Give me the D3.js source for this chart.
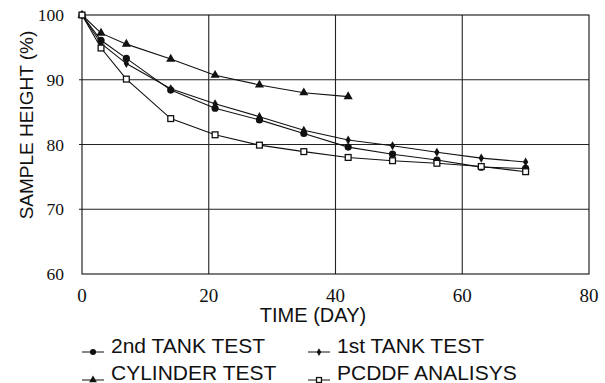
<!DOCTYPE html>
<html>
<head>
<meta charset="utf-8">
<script src="https://cdn.jsdelivr.net/npm/d3@7"></script>
<style>
  html, body { margin: 0; padding: 0; background: #fff; }
  svg { display: block; }
</style>
</head>
<body>
<svg id="chart" width="605" height="383"></svg>
<script>
// Sampling days and measured sample heights (%)
const days = [0, 3, 7, 14, 21, 28, 35, 42, 49, 56, 63, 70];
const tank2 = [100, 96.1, 93.3, 88.4, 85.6, 83.8, 81.7, 79.6, 78.5, 77.6, 76.5, 76.3];
const tank1 = [100, 95.6, 92.5, 88.6, 86.3, 84.3, 82.2, 80.7, 79.8, 78.8, 77.9, 77.3];
const cylinderDays = [0, 3, 7, 14, 21, 28, 35, 42];
const cylinder = [100, 97.2, 95.5, 93.2, 90.7, 89.2, 88.0, 87.4];
const pcddf = [100, 94.9, 90.1, 84.0, 81.5, 79.9, 78.9, 78.0, 77.5, 77.1, 76.6, 75.8];

const xTicks = [0, 20, 40, 60, 80];
const yTicks = [60, 70, 80, 90, 100];
const seriesNames = ["2nd TANK TEST", "1st TANK TEST", "CYLINDER TEST", "PCDDF ANALISYS"];

const svg = d3.select("#chart");
const x = d3.scaleLinear().domain([0, 80]).range([82, 589]);
const y = d3.scaleLinear().domain([60, 100]).range([274, 15]);

const ink = "#111";

// grid and frame
const g = svg.append("g");
g.selectAll("line.vg").data(xTicks.slice(1, -1)).join("line")
  .attr("x1", d => x(d)).attr("x2", d => x(d))
  .attr("y1", y(100)).attr("y2", y(60))
  .attr("stroke", "#222").attr("stroke-width", 1.1);
g.selectAll("line.hg").data(yTicks.slice(1, -1)).join("line")
  .attr("x1", x(0) - 3).attr("x2", x(80))
  .attr("y1", d => y(d)).attr("y2", d => y(d))
  .attr("stroke", "#222").attr("stroke-width", 1.1);
g.append("rect")
  .attr("x", x(0)).attr("y", y(100))
  .attr("width", x(80) - x(0)).attr("height", y(60) - y(100))
  .attr("fill", "none").attr("stroke", ink).attr("stroke-width", 1.1);

const serif = "'Liberation Serif', 'Times New Roman', serif";
const sans = "'Liberation Sans', Arial, sans-serif";

// tick labels
svg.append("g").selectAll("text").data(yTicks).join("text")
  .attr("x", 64).attr("y", d => y(d) + 6)
  .attr("text-anchor", "end")
  .attr("font-family", serif).attr("font-size", 17.5)
  .attr("fill", ink)
  .text(d => d);

svg.append("g").selectAll("text").data(xTicks).join("text")
  .attr("x", d => x(d)).attr("y", 302)
  .attr("text-anchor", "middle")
  .attr("font-family", serif).attr("font-size", 19)
  .attr("fill", ink)
  .text(d => d);

// axis titles
svg.append("text")
  .attr("transform", "translate(33,125) rotate(-90)")
  .attr("text-anchor", "middle")
  .attr("font-family", sans).attr("font-size", 19)
  .attr("fill", ink)
  .text("SAMPLE HEIGHT (%)");

svg.append("text")
  .attr("x", 313).attr("y", 322)
  .attr("text-anchor", "middle")
  .attr("font-family", sans).attr("font-size", 20)
  .attr("fill", ink)
  .text("TIME (DAY)");

// marker drawers
const markers = {
  circle: (sel, s) => sel.append("circle").attr("r", 3.6 * s).attr("fill", ink),
  diamond: (sel, s) => sel.append("path").attr("d", d3.symbol(d3.symbolDiamond, 24 * s * s)()).attr("fill", ink),
  triangle: (sel, s) => sel.append("path").attr("d", d3.symbol(d3.symbolTriangle, 36 * s * s)()).attr("fill", ink),
  square: (sel, s) => sel.append("rect").attr("x", -2.9 * s).attr("y", -2.9 * s)
    .attr("width", 5.8 * s).attr("height", 5.8 * s)
    .attr("fill", "#fff").attr("stroke", ink).attr("stroke-width", 1.3)
};

const series = [
  { name: seriesNames[0], xs: days, ys: tank2, marker: "circle" },
  { name: seriesNames[1], xs: days, ys: tank1, marker: "diamond" },
  { name: seriesNames[2], xs: cylinderDays, ys: cylinder, marker: "triangle" },
  { name: seriesNames[3], xs: days, ys: pcddf, marker: "square" }
];

const line = d3.line().x(d => x(d[0])).y(d => y(d[1]));

series.forEach(s => {
  const pts = s.xs.map((d, i) => [d, s.ys[i]]);
  svg.append("path").datum(pts)
    .attr("d", line)
    .attr("fill", "none").attr("stroke", ink).attr("stroke-width", 1.1);
});
series.forEach(s => {
  const pts = s.xs.map((d, i) => [d, s.ys[i]]);
  pts.forEach(p => {
    const m = svg.append("g").attr("transform", `translate(${x(p[0])},${y(p[1])})`);
    markers[s.marker](m, 1);
  });
});

// legend
const legendPos = [
  { lx: 82, ly: 352, tx: 111, ty: 353 },
  { lx: 308, ly: 352, tx: 337, ty: 353 },
  { lx: 82, ly: 380, tx: 111, ty: 380 },
  { lx: 308, ly: 380, tx: 337, ty: 380 }
];
series.forEach((s, i) => {
  const p = legendPos[i];
  const lg = svg.append("g");
  lg.append("line")
    .attr("x1", p.lx).attr("x2", p.lx + 22)
    .attr("y1", p.ly).attr("y2", p.ly)
    .attr("stroke", ink).attr("stroke-width", 1);
  const m = lg.append("g").attr("transform", `translate(${p.lx + 11},${p.ly})`);
  markers[s.marker](m, 0.85);
  lg.append("text")
    .attr("x", p.tx).attr("y", p.ty)
    .attr("font-family", sans).attr("font-size", 21)
    .attr("fill", ink)
    .text(s.name);
});
</script>
</body>
</html>
